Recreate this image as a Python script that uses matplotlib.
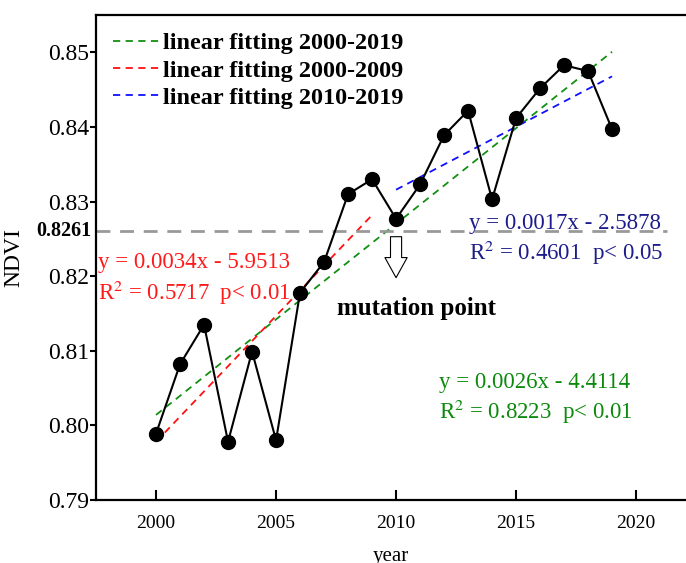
import matplotlib
matplotlib.use('Agg')
import matplotlib.pyplot as plt
from matplotlib.transforms import blended_transform_factory

plt.rcParams['font.family'] = ['Liberation Serif', 'DejaVu Serif']
plt.rcParams['mathtext.fontset'] = 'stix'

# --- dane ---
years = list(range(2000, 2020))
ndvi = [0.7989, 0.8082, 0.8135, 0.7978, 0.8099, 0.7980, 0.8178, 0.8219, 0.8310, 0.8330,
        0.8277, 0.8323, 0.8389, 0.8422, 0.8303, 0.8412, 0.8452, 0.8483, 0.8475, 0.8397]

# końce prostych dopasowania (odczytane)
fit_all_x = [2000, 2019]
fit_all_y = [0.8014, 0.8501]
fit_a_x = [2000, 2009]
fit_a_y = [0.7978, 0.8282]
fit_b_x = [2010, 2019]
fit_b_y = [0.8316, 0.8468]

mutation_level = 0.8261
mutation_year = 2010

fig = plt.figure(figsize=(6.86, 5.63), dpi=100)
ax = fig.add_axes([0.14, 0.112, 0.86, 0.861])

ax.plot(fit_all_x, fit_all_y, color='#119011', lw=1.3, ls=(0, (4, 3)),
        label='linear fitting 2000-2019')
ax.plot(fit_a_x, fit_a_y, color='#ff1010', lw=1.3, ls=(0, (4, 3)),
        label='linear fitting 2000-2009')
ax.plot(fit_b_x, fit_b_y, color='#1010ff', lw=1.3, ls=(0, (4, 3)),
        label='linear fitting 2010-2019')

ax.plot(years, ndvi, color='black', lw=1.5, marker='o', ms=10, zorder=5)

# linia progu (punkt zmiany)
ax.hlines(mutation_level, 1997.5, 2021.3, color='#999999', lw=2, ls=(0, (5, 3.5)))
trans = blended_transform_factory(ax.transAxes, ax.transData)
ax.text(-0.008, mutation_level, '0.8261', transform=trans, ha='right', va='center',
        fontsize=14.5, fontweight='bold')

# strzałka
ax.annotate('', xy=(mutation_year, 0.8198), xytext=(mutation_year, 0.8253),
            arrowprops=dict(arrowstyle='simple,head_length=1.45,head_width=1.6,tail_width=0.8',
                            fc='white', ec='black', lw=0.8, mutation_scale=10,
                            shrinkA=0, shrinkB=0))
ax.text(2007.55, 0.8157, 'mutation point', fontsize=18, fontweight='bold', va='center')

# równania
ax.text(1997.6, 0.8218, 'y = 0.0034x - 5.9513', color='#ff1a1a', fontsize=16.5, va='center')
ax.text(1997.6, 0.8177, 'R$^2$ = 0.5717  p< 0.01', color='#ff1a1a', fontsize=16.5, va='center')
ax.text(2013.05, 0.8271, 'y = 0.0017x - 2.5878', color='#1c1c8c', fontsize=16.5, va='center')
ax.text(2013.05, 0.8231, 'R$^2$ = 0.4601  p< 0.05', color='#1c1c8c', fontsize=16.5, va='center')
ax.text(2011.8, 0.8058, 'y = 0.0026x - 4.4114', color='#0d8a0d', fontsize=16.5, va='center')
ax.text(2011.8, 0.8018, 'R$^2$ = 0.8223  p< 0.01', color='#0d8a0d', fontsize=16.5, va='center')

ax.set_xlim(1997.5, 2022.08)
ax.set_ylim(0.79, 0.855)
ax.set_xticks([2000, 2005, 2010, 2015, 2020])
ax.set_yticks([0.79, 0.80, 0.81, 0.82, 0.83, 0.84, 0.85])
ax.set_yticklabels(['0.79', '0.80', '0.81', '0.82', '0.83', '0.84', '0.85'])
ax.tick_params(axis='x', direction='in', length=7, width=1.5, labelsize=14, pad=11)
ax.tick_params(axis='y', direction='out', length=4, width=1.5, labelsize=17, pad=1)
ax.spines['right'].set_visible(False)
for s in ['left', 'bottom', 'top']:
    ax.spines[s].set_linewidth(1.6)

ax.set_xlabel('year', fontsize=15, labelpad=11)
ax.set_ylabel('NDVI', fontsize=17)
ax.yaxis.set_label_coords(-0.122, 0.5)

leg = ax.legend(loc='upper left', bbox_to_anchor=(-0.008, 1.01), frameon=False,
                handlelength=1.9, handletextpad=0.15, labelspacing=0.22,
                prop={'size': 17.5, 'weight': 'bold'})

fig.savefig('out.png', dpi=100)
